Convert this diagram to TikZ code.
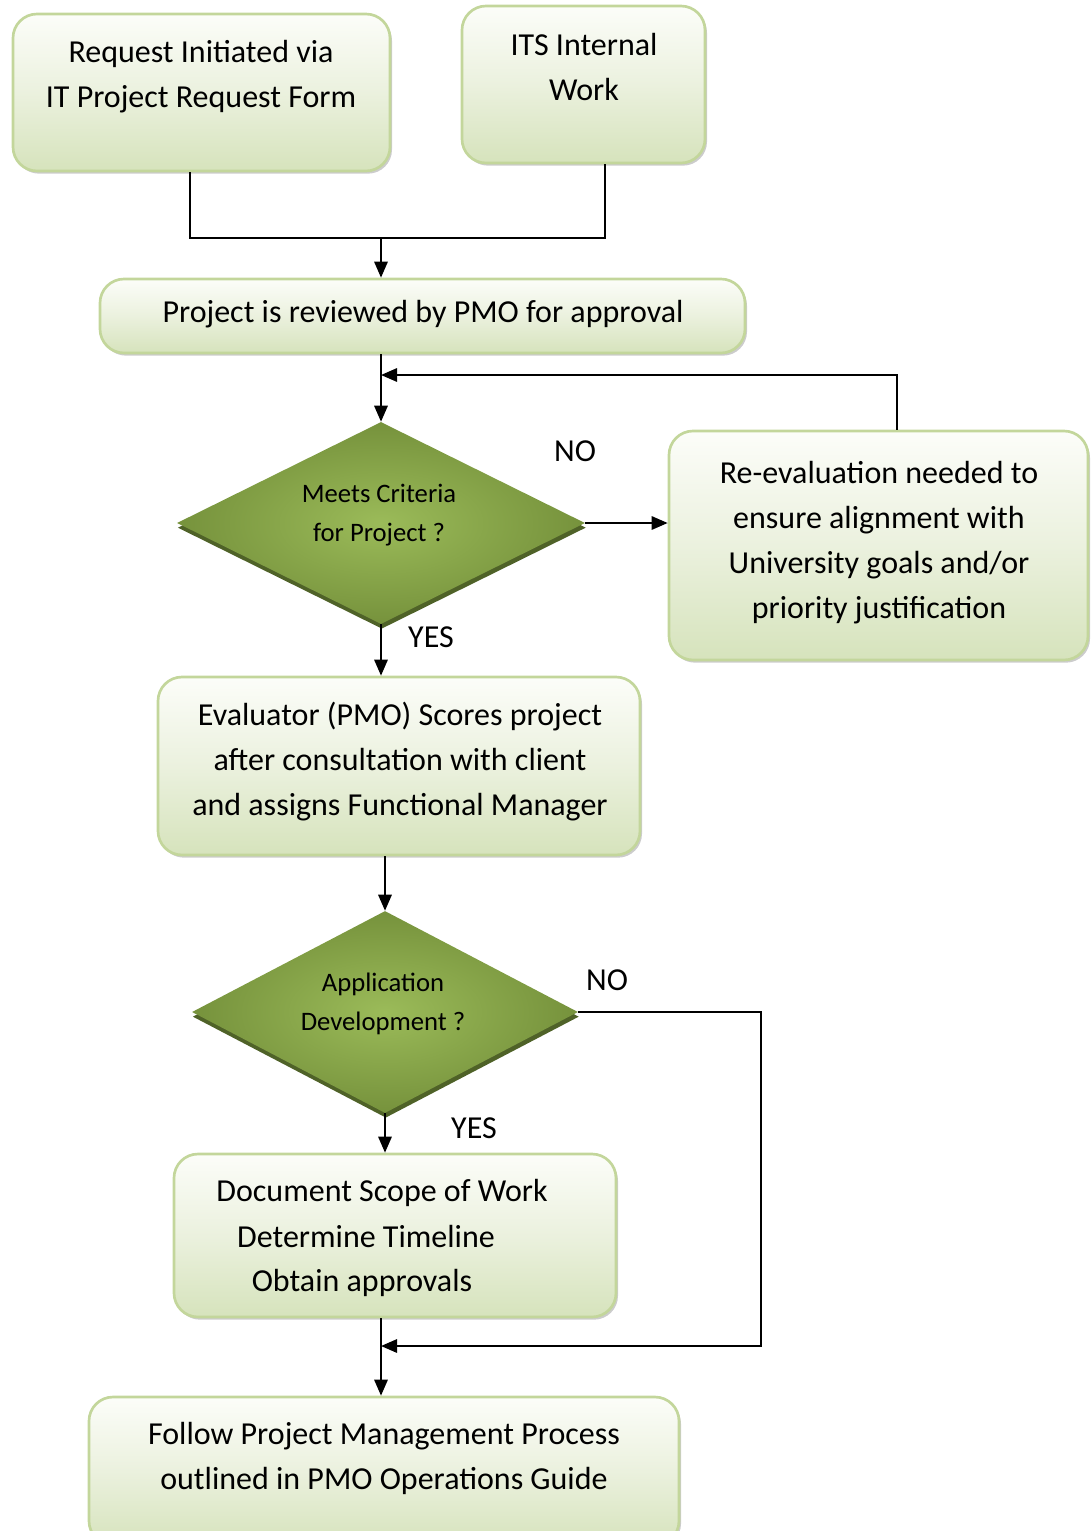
\documentclass[tikz,border=0pt]{standalone}
\usepackage{fontspec}
\setmainfont{Carlito}
\usetikzlibrary{arrows.meta,shapes.geometric,shadows,fit}
\definecolor{boxtop}{HTML}{FCFDF9}
\definecolor{boxmid}{HTML}{EBF1DE}
\definecolor{boxbot}{HTML}{D6E3BC}
\definecolor{boxline}{HTML}{C3D69B}
\definecolor{dmdin}{HTML}{9BBB59}
\definecolor{dmdout}{HTML}{76923C}
\definecolor{dmdshadow}{HTML}{4F6228}
\begin{document}
\begin{tikzpicture}[x=0.75pt,y=-0.75pt,
  box/.style={draw=boxline,line width=2pt,rounded corners=18pt,inner sep=0pt,
    top color=boxtop,bottom color=boxbot,middle color=boxmid,
    drop shadow={shadow xshift=1.5pt,shadow yshift=-2pt,fill=black!40,opacity=0.5}},
  dmd/.style={diamond,inner sep=0pt,draw=none,inner color=dmdin,outer color=dmdout,
    drop shadow={shadow xshift=0.6pt,shadow yshift=-3.5pt,fill=dmdshadow,opacity=1}},
  txt/.style={align=center,font=\fontsize{24}{33.75}\selectfont,inner sep=0pt},
  dtxt/.style={align=center,font=\fontsize{20}{29.5}\selectfont,inner sep=0pt},
  lbl/.style={font=\fontsize{24}{28}\selectfont,inner sep=0pt},
  conn/.style={line width=1.5pt},
  arr/.style={line width=1.5pt,-{Triangle[length=12pt,width=10pt]}}]
\useasboundingbox (0,0) rectangle (1092,1531);

% boxes
\node[box,fit={(13,14) (390,171)}] (b1) {};
\node[box,fit={(462,6) (705,163)}] (b2) {};
\node[box,fit={(100,279) (745,353)}] (b3) {};
\node[box,fit={(669,431) (1088,660)}] (b4) {};
\node[box,fit={(158,677) (640,855)}] (b5) {};
\node[box,fit={(174,1154) (616,1317)}] (b6) {};
\node[box,fit={(89,1397) (679,1545)}] (b7) {};

% diamonds
\node[dmd,minimum width=408*0.75pt,minimum height=202*0.75pt] (d1) at (381,523) {};
\node[dmd,minimum width=386*0.75pt,minimum height=202*0.75pt] (d2) at (385,1012) {};

% texts
\node[txt] (t1) at (201,77) {Request Initiated via\\IT Project Request Form};
\node[txt] (t2) at (584,67) {ITS Internal\\Work};
\node[txt] (t3) at (423,314) {Project is reviewed by PMO for approval};
\node[txt] (t4) at (879,543) {Re-evaluation needed to\\ensure alignment with\\University goals and/or\\priority justification};
\node[txt] (t5) at (400,762) {Evaluator (PMO) Scores project\\after consultation with client\\and assigns Functional Manager};
\node[txt] (t6a) at (382,1193) {Document Scope of Work};
\node[txt] (t6b) at (366,1236) {Determine Timeline};
\node[txt] (t6c) at (362,1283) {Obtain approvals};
\node[txt] (t7) at (384,1458) {Follow Project Management Process\\outlined in PMO Operations Guide};
\node[dtxt] (td1) at (379,515) {Meets Criteria\\for Project ?};
\node[dtxt] (td2) at (383,1004) {Application\\Development ?};

% labels
\node[lbl] (no1) at (575,451) {NO};
\node[lbl] (yes1) at (431,637) {YES};
\node[lbl] (no2) at (607,980) {NO};
\node[lbl] (yes2) at (474,1128) {YES};

% connectors
\coordinate (j1) at (381,238);
\coordinate (fb) at (381,375);
\coordinate (j2) at (381,1346);
\draw[conn] (190,0 |- b1.south) |- (j1);
\draw[conn] (605,0 |- b2.south) |- (j1);
\draw[arr] (j1) -- (j1 |- b3.north);
\draw[arr] (381,0 |- b3.south) -- (d1.north);
\draw[arr] (897,0 |- b4.north) |- (fb);
\draw[arr] (d1.east) -- (d1.east -| b4.west);
\draw[arr] (d1.south) -- (d1.south |- b5.north);
\draw[arr] (d2.north |- b5.south) -- (d2.north);
\draw[arr] (d2.south) -- (d2.south |- b6.north);
\draw[arr] (d2.east) -- (761,0 |- d2.east) |- (j2);
\draw[arr] (j2 |- b6.south) -- (j2 |- b7.north);
\end{tikzpicture}
\end{document}
